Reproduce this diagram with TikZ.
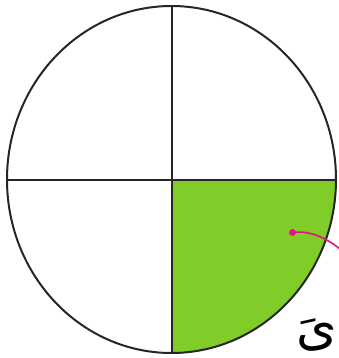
\documentclass[tikz,border=0pt]{standalone}
\usepackage{fontspec}
\usetikzlibrary{arrows.meta, positioning}
\newfontfamily\arabicfont[Script=Arabic]{DejaVu Sans}
\TeXXeTstate=1
\definecolor{leafgreen}{HTML}{80CC28}
\definecolor{pointer}{HTML}{E5137F}

\begin{document}
\begin{tikzpicture}[x=1pt, y=-1pt, line width=2pt]
  \tikzset{
    rim/.style={draw=black!85},
    pointerline/.style={draw=pointer, line width=1.6pt},
    arabtext/.style={font=\arabicfont\fontsize{52}{52}\selectfont, inner sep=0pt}
  }
  \useasboundingbox (0,0) rectangle (338,358);

  % Vybarvená čtvrtina
  \fill[leafgreen] (171.5,180) -- (336,180) arc[start angle=0, end angle=90, x radius=164.5, y radius=173.5] -- cycle;

  % Kruh a dělicí čáry
  \draw[rim] (171.5,179.5) ellipse[x radius=164.5, y radius=173.5];
  \draw[rim] (7,180) -- (336,180);
  \draw[rim] (171.5,6) -- (171.5,353);

  % Popisek
  \coordinate (dot) at (292.5,232.5);
  \coordinate (away) at (346,254);
  \node[arabtext, anchor=south east] (yeh) at (338,352) {\beginR یَ\endR};
  \draw[pointerline] (dot) .. controls (310,230) and (328,238) .. (away);
  \fill[pointer] (dot) circle (3.4);
\end{tikzpicture}
\end{document}
